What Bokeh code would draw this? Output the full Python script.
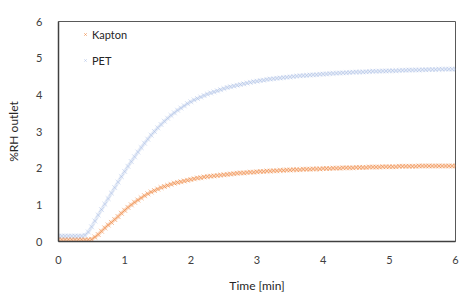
from bokeh.plotting import figure
from bokeh.models import Legend, LegendItem, FixedTicker, Range1d
from bokeh.embed import file_html
from bokeh.resources import INLINE

time_min = [round(i * 0.05, 2) for i in range(121)]

pet = [0.15, 0.15, 0.15, 0.15, 0.15, 0.15, 0.15, 0.15, 0.17, 0.26,
       0.40, 0.56, 0.72, 0.87, 1.02, 1.17, 1.32, 1.47, 1.62, 1.77,
       1.91, 2.05, 2.18, 2.31, 2.44, 2.56, 2.68, 2.79, 2.90, 3.00,
       3.10, 3.19, 3.28, 3.36, 3.44, 3.51, 3.58, 3.64, 3.70, 3.76,
       3.81, 3.86, 3.90, 3.94, 3.98, 4.02, 4.05, 4.08, 4.11, 4.14,
       4.17, 4.20, 4.22, 4.24, 4.26, 4.28, 4.30, 4.32, 4.34, 4.36,
       4.37, 4.39, 4.40, 4.42, 4.43, 4.44, 4.45, 4.46, 4.47, 4.48,
       4.49, 4.50, 4.51, 4.52, 4.525, 4.53, 4.54, 4.545, 4.55, 4.56,
       4.565, 4.57, 4.58, 4.585, 4.59, 4.595, 4.60, 4.605, 4.61, 4.615,
       4.62, 4.62, 4.625, 4.63, 4.635, 4.64, 4.64, 4.645, 4.65, 4.65,
       4.655, 4.66, 4.66, 4.665, 4.67, 4.67, 4.675, 4.675, 4.68, 4.68,
       4.685, 4.685, 4.69, 4.69, 4.69, 4.695, 4.695, 4.70, 4.70, 4.70,
       4.70]

kapton = [0.05, 0.05, 0.05, 0.05, 0.05, 0.05, 0.05, 0.05, 0.05, 0.05,
          0.06, 0.12, 0.19, 0.28, 0.37, 0.45, 0.52, 0.60, 0.68, 0.77,
          0.85, 0.93, 1.00, 1.07, 1.13, 1.19, 1.25, 1.30, 1.35, 1.39,
          1.43, 1.47, 1.50, 1.53, 1.56, 1.59, 1.61, 1.63, 1.65, 1.67,
          1.69, 1.71, 1.73, 1.74, 1.76, 1.77, 1.78, 1.79, 1.80, 1.81,
          1.82, 1.83, 1.84, 1.85, 1.86, 1.87, 1.87, 1.88, 1.89, 1.89,
          1.90, 1.91, 1.91, 1.92, 1.92, 1.93, 1.93, 1.94, 1.94, 1.95,
          1.95, 1.96, 1.96, 1.96, 1.97, 1.97, 1.97, 1.98, 1.98, 1.98,
          1.99, 1.99, 1.99, 2.00, 2.00, 2.00, 2.01, 2.01, 2.01, 2.01,
          2.02, 2.02, 2.02, 2.02, 2.03, 2.03, 2.03, 2.03, 2.04, 2.04,
          2.04, 2.04, 2.04, 2.05, 2.05, 2.05, 2.05, 2.05, 2.05, 2.06,
          2.06, 2.06, 2.06, 2.06, 2.06, 2.06, 2.06, 2.06, 2.06, 2.06,
          2.06]

x_ticks = [0, 1, 2, 3, 4, 5, 6]
y_ticks = [0, 1, 2, 3, 4, 5, 6]

FONT = "Lato"
ORANGE = "#ED7D31"
BLUE = "#8FAADC"

p = figure(width=471, height=295, output_backend="svg", toolbar_location=None,
           x_range=Range1d(0, 6), y_range=Range1d(0, 6),
           min_border_left=58, min_border_right=16, min_border_top=21, min_border_bottom=51)

p.xgrid.visible = False
p.ygrid.visible = False
p.outline_line_color = "#595959"
p.outline_line_width = 1

for ax, ticks in ((p.xaxis, x_ticks), (p.yaxis, y_ticks)):
    ax.ticker = FixedTicker(ticks=ticks)
    ax.major_tick_line_color = None
    ax.minor_tick_line_color = None
    ax.axis_line_color = "#404040"
    ax.axis_line_width = 1.5
    ax.major_label_text_font = FONT
    ax.major_label_text_font_size = "11px"
    ax.major_label_text_color = "#404040"
    ax.axis_label_text_font = FONT
    ax.axis_label_text_font_size = "12px"
    ax.axis_label_text_font_style = "normal"
    ax.axis_label_text_color = "#262626"

p.xaxis.axis_label = "Time [min]"
p.yaxis.axis_label = "%RH outlet"
p.xaxis.major_label_standoff = 8
p.yaxis.major_label_standoff = 10
p.xaxis.axis_label_standoff = 11
p.yaxis.axis_label_standoff = 12

p.line(time_min, kapton, line_color=ORANGE, line_alpha=0.3, line_width=3.5)
p.line(time_min, pet, line_color=BLUE, line_alpha=0.22, line_width=3.5)
r_k = p.scatter(time_min, kapton, marker="x", size=7, line_color=ORANGE,
                line_alpha=0.5, line_width=1)
r_p = p.scatter(time_min, pet, marker="x", size=7, line_color=BLUE,
                line_alpha=0.35, line_width=1)

legend = Legend(items=[LegendItem(label="Kapton", renderers=[r_k]),
                       LegendItem(label="PET", renderers=[r_p])],
                location=(22, 173), border_line_color=None, background_fill_alpha=0,
                padding=2, spacing=10, glyph_width=10, glyph_height=16,
                label_height=16, label_standoff=2,
                label_text_font=FONT, label_text_font_size="11px",
                label_text_color="#262626", margin=0)
p.add_layout(legend, "center")

open("out.html", "w").write(file_html(p, INLINE))
